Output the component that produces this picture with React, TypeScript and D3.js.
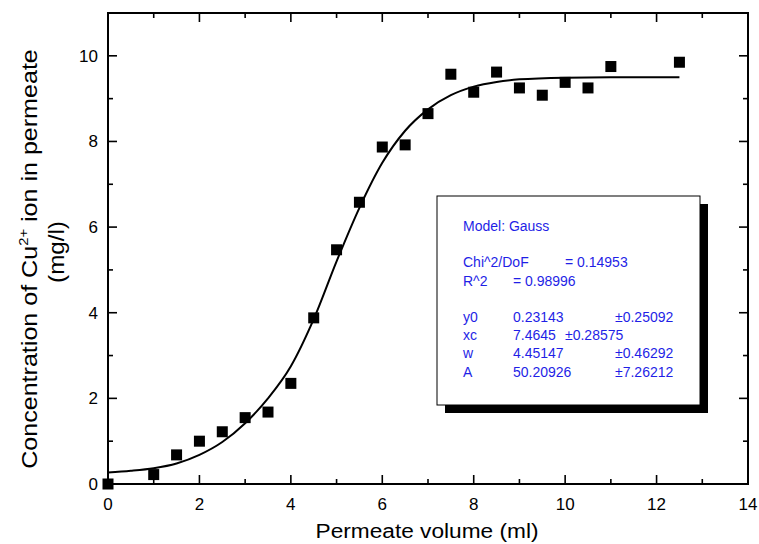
import React, { useEffect, useRef } from 'react';
import * as d3 from 'd3';

// measured points
const volumes = [0, 1, 1.5, 2, 2.5, 3, 3.5, 4, 4.5, 5, 5.5, 6, 6.5, 7, 7.5, 8, 8.5, 9, 9.5, 10, 10.5, 11, 12.5];
const concentrations = [0, 0.22, 0.68, 1.0, 1.22, 1.55, 1.68, 2.35, 3.88, 5.47, 6.58, 7.87, 7.92, 8.65, 9.57, 9.15, 9.62, 9.25, 9.08, 9.38, 9.25, 9.75, 9.85];

// fitted curve
const fitX = [0, 0.5, 1, 1.5, 2, 2.5, 3, 3.5, 4, 4.5, 5, 5.5, 6, 6.5, 7, 7.5, 8, 8.5, 9, 10, 11, 12.5];
const fitY = [0.27, 0.31, 0.37, 0.48, 0.68, 0.98, 1.42, 2.0, 2.75, 3.85, 5.2, 6.45, 7.5, 8.25, 8.75, 9.08, 9.28, 9.39, 9.45, 9.49, 9.5, 9.5];

const xMajor = [0, 2, 4, 6, 8, 10, 12, 14];
const xMinor = [1, 3, 5, 7, 9, 11, 13];
const yMajor = [0, 2, 4, 6, 8, 10];
const yMinor = [1, 3, 5, 7, 9, 11];

// fit report, [text, x]
const boxLines: [string, number][][] = [
  [['Model: Gauss', 463]],
  [],
  [['Chi^2/DoF', 463], ['= 0.14953', 565]],
  [['R^2', 463], ['=', 513], ['0.98996', 525]],
  [],
  [['y0', 463], ['0.23143', 513], ['±0.25092', 615]],
  [['xc', 463], ['7.4645', 513], ['±0.28575', 565]],
  [['w', 463], ['4.45147', 513], ['±0.46292', 615]],
  [['A', 463], ['50.20926', 513], ['±7.26212', 615]],
];

const W = 759;
const H = 544;

const App = () => {
  const svgRef = useRef<SVGSVGElement>(null);

  useEffect(() => {
    if (!svgRef.current) return;
    d3.select(svgRef.current).selectAll('*').remove();

    const left = 108, right = 748, top = 13, bottom = 484;
    const x = d3.scaleLinear().domain([0, 14]).range([left, right]);
    const y = d3.scaleLinear().domain([0, 11]).range([bottom, top]);
    const font = 'Arial, "Liberation Sans", sans-serif';

    const svg = d3.select(svgRef.current)
      .attr('width', W)
      .attr('height', H)
      .style('font-family', font);

    svg.append('rect').attr('width', W).attr('height', H).attr('fill', '#fff');

    // frame
    svg.append('rect')
      .attr('x', left).attr('y', top)
      .attr('width', right - left).attr('height', bottom - top)
      .attr('fill', 'none').attr('stroke', '#000').attr('stroke-width', 2);

    const tickG = svg.append('g').attr('stroke', '#000').attr('stroke-width', 1.6);
    const addX = (vals: number[], len: number) => {
      vals.forEach(v => {
        tickG.append('line').attr('x1', x(v)).attr('x2', x(v)).attr('y1', bottom).attr('y2', bottom - len);
        tickG.append('line').attr('x1', x(v)).attr('x2', x(v)).attr('y1', top).attr('y2', top + len);
      });
    };
    const addY = (vals: number[], len: number) => {
      vals.forEach(v => {
        tickG.append('line').attr('y1', y(v)).attr('y2', y(v)).attr('x1', left).attr('x2', left + len);
        tickG.append('line').attr('y1', y(v)).attr('y2', y(v)).attr('x1', right).attr('x2', right - len);
      });
    };
    addX(xMajor, 9);
    addX(xMinor, 5);
    addY(yMajor, 9);
    addY(yMinor, 5);

    // tick labels
    svg.append('g').selectAll('text')
      .data(xMajor)
      .join('text')
      .attr('x', d => x(d))
      .attr('y', bottom + 26)
      .attr('text-anchor', 'middle')
      .style('font-size', '17px')
      .text(d => d);

    svg.append('g').selectAll('text')
      .data(yMajor)
      .join('text')
      .attr('x', left - 10)
      .attr('y', d => y(d) + 6)
      .attr('text-anchor', 'end')
      .style('font-size', '17px')
      .text(d => d);

    // axis titles (the original lettering is a bit wider than Arial)
    svg.append('text')
      .attr('transform', `translate(${(left + right) / 2 - 1},538) scale(1.08,1)`)
      .attr('text-anchor', 'middle')
      .style('font-size', '21px')
      .text('Permeate volume (ml)');

    const yt = svg.append('text')
      .attr('transform', 'translate(37,259) rotate(-90) scale(1.14,1)')
      .attr('text-anchor', 'middle')
      .style('font-size', '22px');
    yt.append('tspan').text('Concentration of Cu');
    yt.append('tspan').attr('dy', -9).style('font-size', '13px').text('2+');
    yt.append('tspan').attr('dy', 9).text(' ion in permeate');

    svg.append('text')
      .attr('transform', 'translate(64,252) rotate(-90) scale(1.1,1)')
      .attr('text-anchor', 'middle')
      .style('font-size', '22px')
      .text('(mg/l)');

    // fitted curve
    const line = d3.line<number>()
      .x((d, i) => x(fitX[i]))
      .y(d => y(d))
      .curve(d3.curveMonotoneX);
    svg.append('path')
      .datum(fitY)
      .attr('d', line)
      .attr('fill', 'none')
      .attr('stroke', '#000')
      .attr('stroke-width', 2);

    // points
    const s = 11;
    svg.append('g').selectAll('rect')
      .data(concentrations)
      .join('rect')
      .attr('x', (d, i) => x(volumes[i]) - s / 2)
      .attr('y', d => y(d) - s / 2)
      .attr('width', s)
      .attr('height', s)
      .attr('fill', '#000');

    // fit results box
    const bx = 437, by = 196, bw = 263, bh = 209;
    svg.append('rect')
      .attr('x', bx + 8).attr('y', by + 8).attr('width', bw).attr('height', bh)
      .attr('fill', '#000');
    svg.append('rect')
      .attr('x', bx).attr('y', by).attr('width', bw).attr('height', bh)
      .attr('fill', '#fff').attr('stroke', '#000').attr('stroke-width', 1);

    const baselines = [231, 249, 267, 286, 304, 322, 340, 358, 377];
    const tg = svg.append('g').attr('fill', '#1f1fe6').style('font-size', '14px');
    boxLines.forEach((row, i) => {
      row.forEach(([t, tx]) => {
        tg.append('text').attr('x', tx).attr('y', baselines[i]).text(t);
      });
    });
  }, []);

  return (
    <svg ref={svgRef} style={{ position: 'absolute', left: 0, top: 0, display: 'block' }} />
  );
};

export default App;
